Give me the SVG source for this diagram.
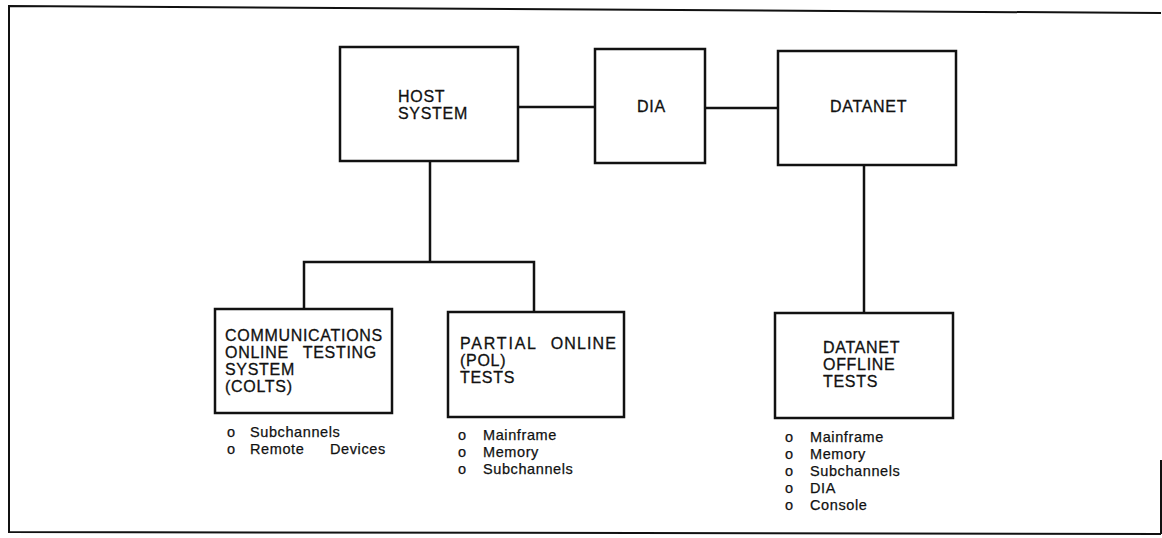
<svg xmlns="http://www.w3.org/2000/svg" width="1162" height="538" viewBox="0 0 1162 538">
<style>
.box{fill:#fff;stroke:#111;stroke-width:2.5}
.ln{fill:none;stroke:#111;stroke-width:2.5}
.frame{fill:none;stroke:#111;stroke-width:2}
.t{font-family:"Liberation Sans",Arial,sans-serif;font-size:16px;letter-spacing:0.7px;fill:#111;stroke:#111;stroke-width:0.3}
.l{font-family:"Liberation Sans",Arial,sans-serif;font-size:14.5px;letter-spacing:0.6px;fill:#111;stroke:#111;stroke-width:0.25}
</style>
<rect width="1162" height="538" fill="#fff"/>
<g id="frame">
<path class="frame" d="M1161,13 L9,6 L9,532 L1161,534"/>
<path class="frame" d="M1161,460 L1161,534"/>
</g>
<g id="connectors">
<path class="ln" d="M518,107 H595"/>
<path class="ln" d="M705,108 H778"/>
<path class="ln" d="M430,161 V262"/>
<path class="ln" d="M304,309 V262 H534 V312"/>
<path class="ln" d="M864,165 V313"/>
</g>
<g id="host">
<rect class="box" x="340" y="47" width="178" height="114"/>
<text class="t" x="398" y="102">HOST</text>
<text class="t" x="398" y="119">SYSTEM</text>
</g>
<g id="dia">
<rect class="box" x="595" y="49" width="110" height="114"/>
<text class="t" x="637" y="112">DIA</text>
</g>
<g id="datanet">
<rect class="box" x="778" y="51" width="178" height="114"/>
<text class="t" x="830" y="112">DATANET</text>
</g>
<g id="colts">
<rect class="box" x="215" y="309" width="177" height="104"/>
<text class="t" x="225" y="341">COMMUNICATIONS</text>
<text class="t" x="225" y="358">ONLINE</text>
<text class="t" x="377" y="358" text-anchor="end">TESTING</text>
<text class="t" x="225" y="375">SYSTEM</text>
<text class="t" x="225" y="392">(COLTS)</text>
<text class="l" x="227" y="437">o</text>
<text class="l" x="250" y="437">Subchannels</text>
<text class="l" x="227" y="454">o</text>
<text class="l" x="250" y="454">Remote</text>
<text class="l" x="330" y="454">Devices</text>
</g>
<g id="pol">
<rect class="box" x="448" y="312" width="176" height="105"/>
<text class="t" x="460" y="349" style="letter-spacing:1.8px">PARTIAL</text>
<text class="t" x="617" y="349" text-anchor="end" style="letter-spacing:1.1px">ONLINE</text>
<text class="t" x="460" y="366">(POL)</text>
<text class="t" x="460" y="383">TESTS</text>
<text class="l" x="458" y="440">o</text>
<text class="l" x="483" y="440">Mainframe</text>
<text class="l" x="458" y="457">o</text>
<text class="l" x="483" y="457">Memory</text>
<text class="l" x="458" y="474">o</text>
<text class="l" x="483" y="474">Subchannels</text>
</g>
<g id="datanet-offline">
<rect class="box" x="775" y="313" width="178" height="105"/>
<text class="t" x="823" y="353">DATANET</text>
<text class="t" x="823" y="370">OFFLINE</text>
<text class="t" x="823" y="387">TESTS</text>
<text class="l" x="785" y="442">o</text>
<text class="l" x="810" y="442">Mainframe</text>
<text class="l" x="785" y="459">o</text>
<text class="l" x="810" y="459">Memory</text>
<text class="l" x="785" y="476">o</text>
<text class="l" x="810" y="476">Subchannels</text>
<text class="l" x="785" y="493">o</text>
<text class="l" x="810" y="493">DIA</text>
<text class="l" x="785" y="510">o</text>
<text class="l" x="810" y="510">Console</text>
</g>
</svg>
